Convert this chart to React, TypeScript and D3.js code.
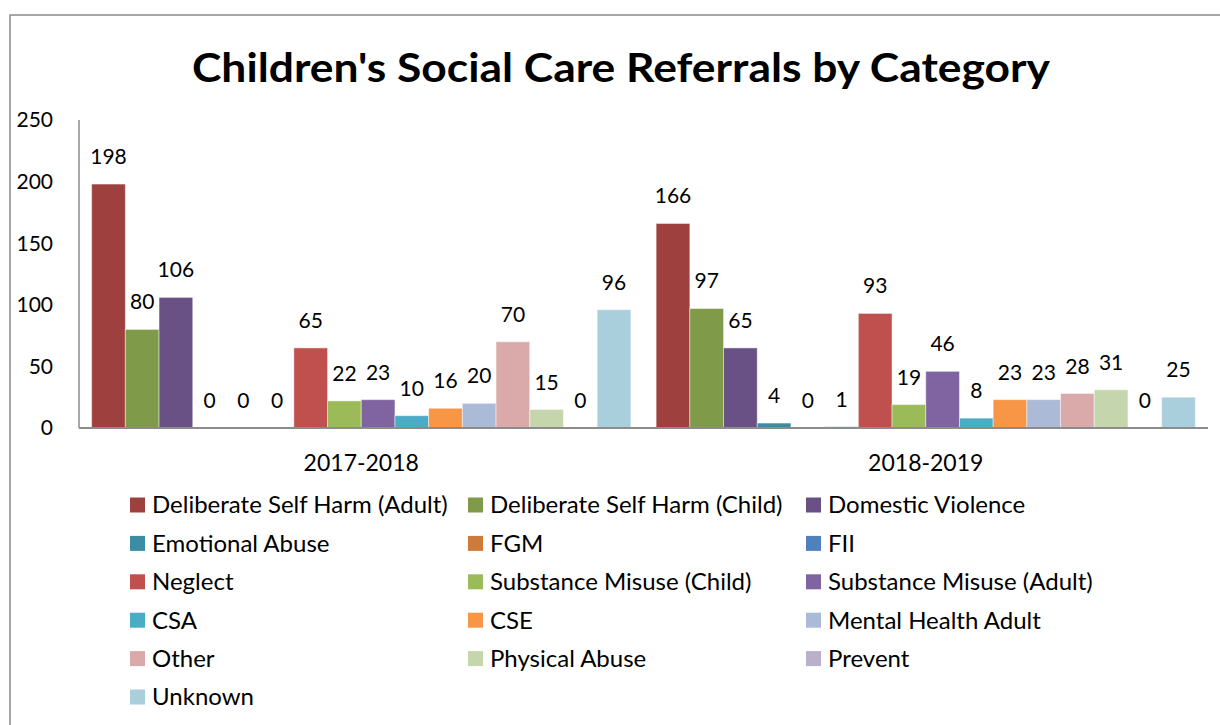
import * as d3 from 'd3';

const years = ['2017-2018', '2018-2019'];

const categories = [
  'Deliberate Self Harm (Adult)',
  'Deliberate Self Harm (Child)',
  'Domestic Violence',
  'Emotional Abuse',
  'FGM',
  'FII',
  'Neglect',
  'Substance Misuse (Child)',
  'Substance Misuse (Adult)',
  'CSA',
  'CSE',
  'Mental Health Adult',
  'Other',
  'Physical Abuse',
  'Prevent',
  'Unknown',
];

const values2017 = [198, 80, 106, 0, 0, 0, 65, 22, 23, 10, 16, 20, 70, 15, 0, 96];
const values2018 = [166, 97, 65, 4, 0, 1, 93, 19, 46, 8, 23, 23, 28, 31, 0, 25];

const colors = [
  '#9e413e', '#7f9a48', '#695185', '#3c8da3', '#cc7b38', '#4f81bd',
  '#c0504d', '#9bbb59', '#8064a2', '#4bacc6', '#f79646', '#aabad7',
  '#d9aaa9', '#c6d6ac', '#bab0c9', '#a9cedc',
];

const yTicks = [0, 50, 100, 150, 200, 250];

const FONT = 'Lato, "Open Sans", sans-serif';

export default function App() {
  const width = 1220;
  const height = 725;
  const plot = { left: 79, right: 1208, top: 120, bottom: 428 };

  const seriesByYear = [values2017, values2018];

  const x0 = d3.scaleBand<string>()
    .domain(years)
    .range([plot.left, plot.right])
    .padding(0);

  const x1 = d3.scaleBand<string>()
    .domain(categories)
    .range([0, x0.bandwidth()])
    .paddingInner(0)
    .paddingOuter(0.375);

  const y = d3.scaleLinear()
    .domain([0, 250])
    .range([plot.bottom, plot.top]);

  const legendCols = [130, 468, 806];
  const legendRow0 = 505;
  const legendRowStep = 38.4;

  return (
    <svg
      width={width}
      height={height}
      style={{ position: 'absolute', left: 0, top: 0, display: 'block', background: '#fff' }}
      fontFamily={FONT}
    >
      {/* chart frame */}
      <rect x={10} y={15} width={1240} height={740} fill="#fff" stroke="#898989" strokeWidth={1.5} />

      <text
        x={621}
        y={82}
        textAnchor="middle"
        fontSize={40}
        fontWeight="bold"
        fill="#000"
        textLength={858}
        lengthAdjust="spacingAndGlyphs"
      >
        Children's Social Care Referrals by Category
      </text>

      {/* y axis labels */}
      {yTicks.map(t => (
        <text key={t} x={53} y={y(t)} dy="0.35em" textAnchor="end" fontSize={21} fill="#000">
          {t}
        </text>
      ))}

      {/* bars */}
      {years.map((yr, yi) => (
        <g key={yr} transform={`translate(${x0(yr)},0)`}>
          {categories.map((c, ci) => {
            const v = seriesByYear[yi][ci];
            const bx = x1(c) as number;
            return (
              <g key={c}>
                <rect
                  x={bx}
                  y={y(v)}
                  width={x1.bandwidth()}
                  height={plot.bottom - y(v)}
                  fill={colors[ci]}
                  stroke="rgba(255,255,255,0.45)"
                  strokeWidth={1}
                />
                <text
                  x={bx + x1.bandwidth() / 2}
                  y={y(v) - 20}
                  textAnchor="middle"
                  fontSize={21}
                  fill="#000"
                >
                  {v}
                </text>
              </g>
            );
          })}
          <text
            x={x0.bandwidth() / 2}
            y={471}
            textAnchor="middle"
            fontSize={23}
            fill="#000"
          >
            {yr}
          </text>
        </g>
      ))}

      {/* axes */}
      <line x1={plot.left} x2={plot.left} y1={plot.top} y2={plot.bottom} stroke="#8c8c8c" strokeWidth={1.5} />
      <line x1={plot.left} x2={plot.right} y1={plot.bottom} y2={plot.bottom} stroke="#8c8c8c" strokeWidth={2} />

      {/* legend */}
      {categories.map((c, i) => {
        const col = i % 3;
        const row = Math.floor(i / 3);
        const lx = legendCols[col];
        const ly = legendRow0 + row * legendRowStep;
        return (
          <g key={c}>
            <rect x={lx} y={ly - 7.5} width={15} height={15} fill={colors[i]} />
            <text x={lx + 22} y={ly} dy="0.35em" fontSize={24} fill="#000">
              {c}
            </text>
          </g>
        );
      })}
    </svg>
  );
}
